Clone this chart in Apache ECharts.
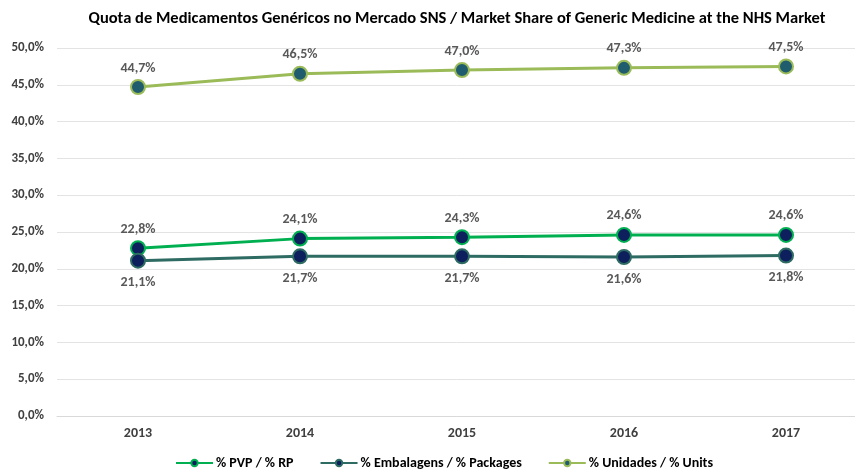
<!DOCTYPE html>
<html><head><meta charset="utf-8">
<script src="https://cdn.jsdelivr.net/npm/echarts@6/dist/echarts.min.js"></script>
<style>html,body{margin:0;padding:0;background:#fff}#c{width:855px;height:473px}</style>
</head><body><div id="c"></div>
<script>
var years = ['2013','2014','2015','2016','2017'];
var pvp = [22.8, 24.1, 24.3, 24.6, 24.6];
var embalagens = [21.1, 21.7, 21.7, 21.6, 21.8];
var unidades = [44.7, 46.5, 47.0, 47.3, 47.5];
var seriesNames = ['% PVP / % RP', '% Embalagens / % Packages', '% Unidades / % Units'];
var yTicks = [0,5,10,15,20,25,30,35,40,45,50];

function fmt(v){ return v.toFixed(1).replace('.', ',') + '%'; }
var font = 'Calibri, Carlito, Lato, "DejaVu Sans", sans-serif';
var chart = echarts.init(document.getElementById('c'));
function mk(name, data, lineColor, fill, border, pos, dist){
  return {
    name: name, type: 'line', data: data,
    symbol: 'circle', symbolSize: 14,
    lineStyle: {color: lineColor, width: 3},
    itemStyle: {color: fill, borderColor: border, borderWidth: 2},
    label: {show: true, position: pos, distance: dist, formatter: function(p){return fmt(p.value);},
      color: '#595959', fontWeight: 'bold', fontSize: 14, fontFamily: font},
    z: 3
  };
}
chart.setOption({
  animation: false,
  title: {text: 'Quota de Medicamentos Genéricos no Mercado SNS / Market Share of Generic Medicine at the NHS Market',
    left: 452, textAlign: 'center', top: 5,
    textStyle: {fontSize: 16.5, fontWeight: 'bold', color: '#000', fontFamily: font}},
  grid: {left: 57, width: 810, top: 48, height: 368, outerBoundsMode: 'none', containLabel: false},
  legend: {top: 456, left: 175, padding: 0, itemGap: 26, itemWidth: 37, itemHeight: 8,
    textStyle: {fontSize: 14, fontWeight: 'bold', color: '#000', fontFamily: font, padding: [0,0,0,-2]},
    data: seriesNames},
  xAxis: {type: 'category', data: years, boundaryGap: true,
    axisLine: {show: true, lineStyle: {color: '#d9d9d9'}}, axisTick: {show: false},
    axisLabel: {fontSize: 14, fontWeight: 'bold', color: '#404040', fontFamily: font, margin: 10}},
  yAxis: {type: 'value', min: 0, max: 50, interval: 5,
    axisLine: {show: false}, axisTick: {show: false},
    splitLine: {lineStyle: {color: '#e3e3e3', width: 1}},
    axisLabel: {formatter: function(v){return fmt(v);}, fontSize: 13, fontWeight: 'bold', color: '#404040', fontFamily: font, margin: 13}},
  series: [
    mk(seriesNames[0], pvp, '#00b050', '#0d1f5c', '#00b050', 'top', 4),
    mk(seriesNames[1], embalagens, '#2e6b62', '#0d1f5c', '#2e6b62', 'bottom', 7),
    mk(seriesNames[2], unidades, '#9bbb59', '#1f5c6e', '#9bbb59', 'top', 4)
  ]
});
</script></body></html>
